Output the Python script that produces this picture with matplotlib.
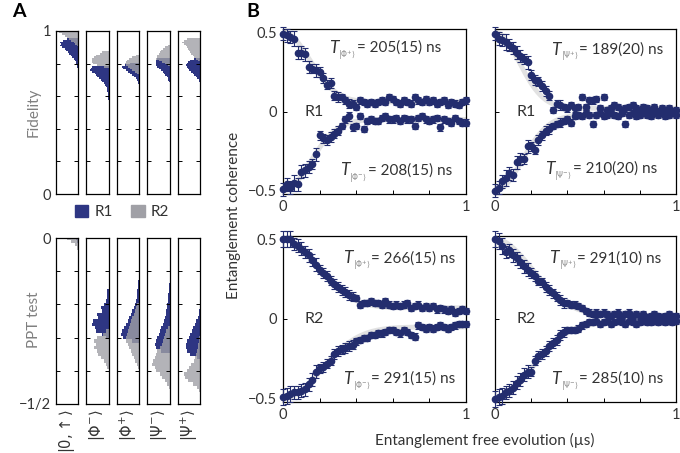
import numpy as np
import matplotlib
matplotlib.use('Agg')
import matplotlib.pyplot as plt
from matplotlib.patches import Patch

plt.rcParams['font.family'] = ['Lato', 'DejaVu Sans']
plt.rcParams['mathtext.fontset'] = 'dejavusans'

navy = '#232d6e'
hnavy = '#2e3683'
hgrey = '#a0a0a6'
txt = '#333333'

# ---- panel A: histograms ----
states = [r'$|0,\!\uparrow\rangle$', r'$|\Phi^{-}\rangle$', r'$|\Phi^{+}\rangle$',
          r'$|\Psi^{-}\rangle$', r'$|\Psi^{+}\rangle$']

# fidelity histograms, bins of 0.01 counted downward from the top bin centre
fid_r1_top = [0.95, 0.78, 0.80, 0.83, 0.83]
fid_r1 = [
    [0.5, 0.65, 0.8, 0.75, 0.8, 0.7, 0.6, 0.55, 0.45, 0.38, 0.3, 0.25, 0.2, 0.15, 0.1, 0.07, 0.05, 0.03],
    [0.75, 0.8, 0.83, 0.75, 0.62, 0.55, 0.5, 0.42, 0.35, 0.28, 0.2, 0.15, 0.1, 0.08, 0.06, 0.05, 0.04, 0.03, 0.03, 0.02, 0.02],
    [0.4, 0.65, 0.75, 0.7, 0.6, 0.5, 0.4, 0.3, 0.22, 0.15, 0.1, 0.07, 0.04],
    [0.55, 0.6, 0.63, 0.62, 0.6, 0.55, 0.46, 0.4, 0.31, 0.25, 0.2, 0.14, 0.1, 0.06, 0.04],
    [0.3, 0.45, 0.55, 0.6, 0.65, 0.6, 0.55, 0.5, 0.42, 0.35, 0.28, 0.2, 0.14, 0.08, 0.05],
]
fid_r2_top = [1.0, 0.87, 0.85, 0.91, 0.95]
fid_r2 = [
    [0.9, 0.85, 0.72, 0.6, 0.5, 0.4, 0.3, 0.2, 0.12, 0.06],
    [0.28, 0.4, 0.55, 0.65, 0.72, 0.76, 0.74, 0.7, 0.5, 0.2],
    [0.15, 0.3, 0.45, 0.55, 0.6, 0.65, 0.6, 0.5, 0.4, 0.3, 0.2, 0.1],
    [0.1, 0.2, 0.3, 0.38, 0.45, 0.5, 0.55, 0.58, 0.6, 0.5, 0.35, 0.2, 0.1],
    [0.6, 0.75, 0.8, 0.75, 0.65, 0.6, 0.55, 0.5, 0.45, 0.4, 0.35, 0.3, 0.2, 0.1],
]
# PPT test histograms, bins of 0.01 counted downward from the top bin centre
ppt_r1_top = [0.0, -0.16, -0.10, -0.14, -0.22]
ppt_r1 = [
    [0.1, 0.05],
    [0.05, 0.05, 0.08, 0.1, 0.2, 0.35, 0.3, 0.5, 0.45, 0.68, 0.75, 0.6, 0.55, 0.3, 0.1],
    [0.02, 0.02, 0.03, 0.04, 0.05, 0.06, 0.08, 0.1, 0.12, 0.15, 0.2, 0.25, 0.3, 0.37, 0.45, 0.52, 0.6, 0.68, 0.75, 0.8, 0.7, 0.3],
    [0.03, 0.03, 0.05, 0.06, 0.08, 0.1, 0.12, 0.13, 0.15, 0.18, 0.22, 0.28, 0.32, 0.38, 0.42, 0.48, 0.55, 0.6, 0.68, 0.6, 0.4],
    [0.05, 0.08, 0.12, 0.18, 0.25, 0.32, 0.38, 0.45, 0.5, 0.58, 0.62, 0.66, 0.6, 0.45, 0.15],
]
ppt_r2_top = [0.0, -0.28, -0.20, -0.27, -0.30]
ppt_r2 = [
    [0.5, 0.3, 0.15, 0.05],
    [0.1, 0.25, 0.5, 0.65, 0.55, 0.65, 0.5, 0.45, 0.35, 0.2, 0.1, 0.05],
    [0.1, 0.15, 0.2, 0.25, 0.3, 0.35, 0.4, 0.45, 0.5, 0.55, 0.6, 0.6, 0.5, 0.45, 0.35, 0.3, 0.22, 0.17, 0.1, 0.05],
    [0.1, 0.15, 0.2, 0.25, 0.3, 0.35, 0.45, 0.55, 0.6, 0.68, 0.75, 0.78, 0.68, 0.6, 0.45, 0.35, 0.22, 0.12, 0.05],
    [0.05, 0.08, 0.1, 0.12, 0.15, 0.18, 0.22, 0.3, 0.4, 0.5, 0.6, 0.75, 0.7, 0.55, 0.35, 0.15, 0.05],
]

# ---- panel B: coherence decay ----
t = np.round(np.arange(51) * 0.02, 2)  # free evolution time (us)

tl_up = [0.49, 0.48, 0.47, 0.46, 0.37, 0.37, 0.36, 0.28, 0.27, 0.26, 0.25, 0.21, 0.17, 0.18, 0.10, 0.09, 0.09,
         0.07, 0.05, 0.05, 0.03, 0.07, 0.06, 0.05, 0.06, 0.05, 0.06, 0.07, 0.06, 0.09, 0.08, 0.06, 0.05, 0.07,
         0.06, 0.05, 0.09, 0.07, 0.06, 0.08, 0.06, 0.07, 0.05, 0.06, 0.07, 0.04, 0.06, 0.05, 0.04, 0.06, 0.07]
tl_dn = [-0.49, -0.46, -0.48, -0.45, -0.46, -0.38, -0.37, -0.35, -0.33, -0.27, -0.15, -0.17, -0.18, -0.16,
         -0.14, -0.12, -0.09, -0.05, -0.03, -0.10, -0.09, -0.03, -0.11, -0.06, -0.05, -0.06, -0.06, -0.04,
         -0.03, -0.05, -0.05, -0.04, -0.06, -0.04, -0.05, -0.05, -0.09, -0.04, -0.03, -0.05, -0.06, -0.05,
         -0.04, -0.10, -0.05, -0.06, -0.07, -0.04, -0.06, -0.07, -0.07]
tr_up = [0.49, 0.46, 0.45, 0.44, 0.42, 0.40, 0.37, 0.35, 0.33, 0.31, 0.23, 0.20, 0.19, 0.16, 0.13, 0.10, 0.01,
         0.05, 0.04, 0.03, 0.02, 0.04, 0.02, 0.03, 0.09, 0.03, 0.07, 0.07, 0.08, 0.02, 0.09, 0.01, 0.02, 0.04,
         0.03, 0.01, 0.02, 0.03, 0.04, 0.02, 0.01, 0.03, 0.02, 0.01, 0.03, 0.00, 0.02, 0.01, 0.02, 0.00, 0.01]
tr_dn = [-0.50, -0.48, -0.44, -0.42, -0.39, -0.40, -0.32, -0.30, -0.30, -0.22, -0.22, -0.24, -0.18, -0.15,
         -0.12, -0.11, -0.09, -0.08, -0.07, -0.06, -0.05, -0.07, -0.03, -0.02, -0.03, -0.01, -0.02, -0.08,
         -0.02, -0.01, -0.03, -0.02, -0.01, -0.02, -0.03, -0.01, -0.08, -0.02, -0.01, -0.03, -0.02, -0.01,
         -0.02, -0.03, -0.01, -0.02, -0.01, -0.03, -0.02, -0.01, -0.02]
bl_up = [0.50, 0.50, 0.50, 0.47, 0.46, 0.44, 0.42, 0.40, 0.37, 0.34, 0.31, 0.29, 0.27, 0.24, 0.22, 0.20, 0.18,
         0.17, 0.15, 0.14, 0.13, 0.09, 0.10, 0.10, 0.11, 0.10, 0.10, 0.09, 0.11, 0.09, 0.08, 0.09, 0.08, 0.09,
         0.10, 0.07, 0.08, 0.09, 0.07, 0.08, 0.07, 0.08, 0.06, 0.07, 0.06, 0.05, 0.06, 0.04, 0.05, 0.06, 0.05]
bl_dn = [-0.49, -0.48, -0.47, -0.46, -0.46, -0.45, -0.44, -0.41, -0.38, -0.33, -0.31, -0.30, -0.28, -0.26,
         -0.22, -0.20, -0.19, -0.18, -0.17, -0.16, -0.14, -0.13, -0.12, -0.12, -0.10, -0.10, -0.09, -0.09,
         -0.08, -0.07, -0.07, -0.08, -0.09, -0.07, -0.08, -0.10, -0.11, -0.04, -0.05, -0.06, -0.05, -0.06,
         -0.05, -0.04, -0.05, -0.06, -0.05, -0.04, -0.03, -0.03, -0.03]
br_up = [0.50, 0.49, 0.46, 0.42, 0.43, 0.40, 0.38, 0.36, 0.33, 0.31, 0.29, 0.27, 0.24, 0.23, 0.20, 0.18, 0.16,
         0.14, 0.12, 0.10, 0.10, 0.09, 0.09, 0.08, 0.07, 0.05, 0.04, 0.03, 0.04, 0.03, 0.04, 0.03, 0.02, 0.03,
         0.04, 0.02, 0.03, 0.04, 0.02, 0.03, 0.02, 0.03, 0.01, 0.02, 0.03, 0.02, 0.01, 0.02, 0.03, 0.02, 0.02]
br_dn = [-0.50, -0.49, -0.48, -0.46, -0.45, -0.43, -0.40, -0.38, -0.35, -0.33, -0.33, -0.26, -0.23, -0.22,
         -0.20, -0.17, -0.15, -0.13, -0.10, -0.08, -0.07, -0.07, -0.07, -0.06, -0.04, -0.03, -0.02, -0.02,
         -0.01, -0.03, -0.02, -0.01, -0.03, -0.02, -0.01, -0.02, -0.03, -0.01, -0.02, -0.03, -0.02, -0.01,
         -0.02, -0.02, -0.01, -0.02, -0.01, -0.02, -0.01, -0.02, -0.01]

err_r1 = [0.04, 0.04, 0.04, 0.05, 0.04, 0.04, 0.04, 0.04, 0.03, 0.04, 0.03, 0.03, 0.03, 0.03, 0.03, 0.03, 0.02,
          0.02, 0.03, 0.02, 0.02, 0.02, 0.02, 0.02, 0.02, 0.02, 0.02, 0.02, 0.02, 0.02, 0.02, 0.02, 0.02, 0.02,
          0.02, 0.02, 0.02, 0.02, 0.02, 0.02, 0.02, 0.02, 0.02, 0.02, 0.02, 0.02, 0.02, 0.02, 0.02, 0.02, 0.02]
err_r2 = [0.05, 0.05, 0.05, 0.04, 0.04, 0.04, 0.04, 0.04, 0.04, 0.04, 0.03, 0.03, 0.03, 0.03, 0.03, 0.03, 0.03,
          0.03, 0.03, 0.03, 0.02, 0.02, 0.02, 0.02, 0.02, 0.02, 0.02, 0.02, 0.02, 0.02, 0.02, 0.02, 0.02, 0.02,
          0.02, 0.02, 0.02, 0.02, 0.02, 0.02, 0.02, 0.02, 0.02, 0.02, 0.02, 0.02, 0.02, 0.02, 0.02, 0.02, 0.02]

panels = [
    ('R1', tl_up, tl_dn, err_r1, r'$|\Phi^{+}\rangle$', r'$|\Phi^{-}\rangle$', 205, 208, '205(15)', '208(15)', 0.06, 0.05),
    ('R1', tr_up, tr_dn, err_r1, r'$|\Psi^{+}\rangle$', r'$|\Psi^{-}\rangle$', 189, 210, '189(20)', '210(20)', 0.02, 0.02),
    ('R2', bl_up, bl_dn, err_r2, r'$|\Phi^{+}\rangle$', r'$|\Phi^{-}\rangle$', 266, 291, '266(15)', '291(15)', 0.07, 0.05),
    ('R2', br_up, br_dn, err_r2, r'$|\Psi^{+}\rangle$', r'$|\Psi^{-}\rangle$', 291, 285, '291(10)', '285(10)', 0.02, 0.02),
]
label_pos = [((0.25, 0.40), (0.31, -0.37)), ((0.31, 0.39), (0.275, -0.36)),
             ((0.33, 0.38), (0.33, -0.375)), ((0.30, 0.38), (0.31, -0.375))]

W, H = 680, 453
fig = plt.figure(figsize=(6.8, 4.53), dpi=100)


def px_axes(x0, y0, x1, y1):
    return fig.add_axes([x0 / W, 1 - y1 / H, (x1 - x0) / W, (y1 - y0) / H])


def draw_hist(ax, top, counts, color, alpha):
    c = np.array(counts)
    y = top - 0.01 * np.arange(len(c))
    ax.barh(y, c, height=0.01, left=0, color=color, alpha=alpha, linewidth=0)


for i in range(5):
    x0 = 55.5 + 30.6 * i
    # fidelity
    ax = px_axes(x0, 31, x0 + 22.5, 194)
    draw_hist(ax, fid_r1_top[i], fid_r1[i], hnavy, 1.0)
    draw_hist(ax, fid_r2_top[i], fid_r2[i], hgrey, 0.8)
    ax.set_xlim(1, 0)
    ax.set_ylim(0, 1)
    ax.set_xticks([])
    ax.set_yticks([0, 0.2, 0.4, 0.6, 0.8, 1])
    ax.tick_params(axis='y', direction='in', left=True, right=True, length=3, width=0.7,
                   labelsize=10.5, labelcolor=txt, pad=3)
    if i == 0:
        ax.set_yticklabels(['0', '', '', '', '', '1'])
    else:
        ax.set_yticklabels([])
    for s in ax.spines.values():
        s.set_linewidth(0.9)

    # PPT test
    ax = px_axes(x0, 238, x0 + 22.5, 404)
    draw_hist(ax, ppt_r1_top[i], ppt_r1[i], hnavy, 1.0)
    draw_hist(ax, ppt_r2_top[i], ppt_r2[i], hgrey, 0.8)
    ax.set_xlim(1, 0)
    ax.set_ylim(-0.5, 0)
    ax.set_xticks([])
    ax.set_yticks([-0.5, -0.4, -0.3, -0.2, -0.1, 0])
    ax.tick_params(axis='y', direction='in', left=True, right=True, length=3, width=0.7,
                   labelsize=10.5, labelcolor=txt, pad=3)
    if i == 0:
        ax.set_yticklabels(['\u22121/2', '', '', '', '', '0'])
    else:
        ax.set_yticklabels([])
    for s in ax.spines.values():
        s.set_linewidth(0.9)
    ax.text(0.5, -0.03, states[i], transform=ax.transAxes, rotation=90,
            ha='center', va='top', fontsize=10.5, color=txt)

fig.text(34 / W, 1 - 112 / H, 'Fidelity', rotation=90, ha='center', va='center',
         fontsize=11, color='#808080')
fig.text(34 / W, 1 - 320 / H, 'PPT test', rotation=90, ha='center', va='center',
         fontsize=11, color='#808080')

fig.legend(handles=[Patch(color=hnavy, label='R1'), Patch(color=hgrey, label='R2')],
           loc='center', bbox_to_anchor=(122 / W, 1 - 212 / H), ncol=2, frameon=False,
           fontsize=11, handlelength=0.9, handleheight=0.9, handletextpad=0.4,
           columnspacing=1.2, labelcolor=txt)

boxes = [(283, 29, 466, 194), (495, 29, 676, 194), (283, 236, 466, 402), (495, 236, 676, 402)]
tt = np.linspace(0, 1, 200)
for k, (name, up, dn, err, sub_up, sub_dn, T_up, T_dn, s_up, s_dn, c_up, c_dn) in enumerate(panels):
    ax = px_axes(*boxes[k])
    # fitted decay curves from the quoted coherence times
    ax.plot(tt, c_up + (0.5 - c_up) * np.exp(-(tt / (T_up / 1000)) ** 2), color='#e2e2e2', lw=3.5, zorder=1)
    ax.plot(tt, -c_dn - (0.5 - c_dn) * np.exp(-(tt / (T_dn / 1000)) ** 2), color='#e2e2e2', lw=3.5, zorder=1)
    for vals in (up, dn):
        ax.errorbar(t, vals, yerr=err, fmt='o', ms=4.5, color=navy, ecolor=navy,
                    elinewidth=0.8, capsize=2, capthick=0.8, clip_on=False, zorder=3)
    ax.set_xlim(0, 1)
    ax.set_ylim(-0.52, 0.52)
    ax.set_xticks([0, 0.2, 0.4, 0.6, 0.8, 1])
    ax.set_xticklabels(['0', '', '', '', '', '1'])
    ax.set_yticks([-0.5, 0, 0.5])
    if k % 2 == 0:
        ax.set_yticklabels(['\u22120.5', '0', '0.5'])
    else:
        ax.set_yticklabels([])
    ax.tick_params(direction='in', length=3, width=0.7, labelsize=10.5, labelcolor=txt, pad=4)
    for s in ax.spines.values():
        s.set_linewidth(0.9)
    ax.text(0.17, 0.0, name, ha='center', va='center', fontsize=11.5, color=txt)
    for (px, py), sub, s in zip(label_pos[k], (sub_up, sub_dn), (s_up, s_dn)):
        ax.text(px, py, 'T', style='italic', fontsize=12.5, color=txt, ha='left', va='center')
        ax.annotate(sub, (px, py), xytext=(7, -5), textcoords='offset points',
                    fontsize=5.5, color='#888888', ha='left', va='center')
        ax.annotate('= ' + s + ' ns', (px, py), xytext=(20, 0), textcoords='offset points',
                    fontsize=11, color=txt, ha='left', va='center')

fig.text(234 / W, 1 - 215 / H, 'Entanglement coherence', rotation=90, ha='center', va='center',
         fontsize=11, color=txt)
fig.text(485 / W, 1 - 440 / H, 'Entanglement free evolution (\u00b5s)', ha='center', va='center',
         fontsize=11, color=txt)
fig.text(12 / W, 1 - 3 / H, 'A', fontsize=14, fontweight='bold', va='top', ha='left')
fig.text(246 / W, 1 - 3 / H, 'B', fontsize=14, fontweight='bold', va='top', ha='left')

fig.savefig('out.png', dpi=100)
